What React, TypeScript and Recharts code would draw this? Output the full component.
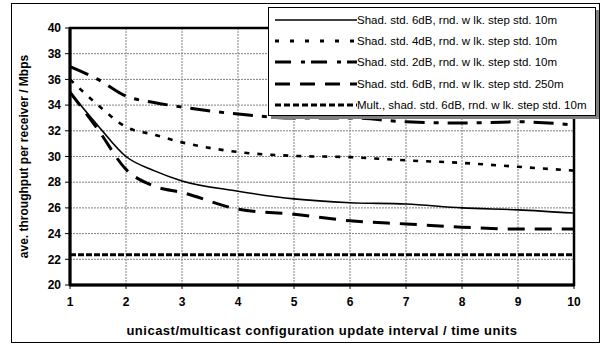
import React from "react"
import { LineChart, Line, XAxis, YAxis, CartesianGrid, Legend, ReferenceArea } from "recharts"

const xValues = [1, 1.5, 2, 2.5, 3, 4, 5, 6, 7, 8, 9, 10]
const shad6Walk10 = [35, 32.4, 30.0, 28.9, 28.1, 27.3, 26.7, 26.4, 26.3, 26.0, 25.85, 25.6]
const shad4Walk10 = [36, 34.0, 32.3, 31.7, 31.1, 30.35, 30.05, 29.95, 29.7, 29.5, 29.2, 28.9]
const shad2Walk10 = [37, 36.0, 34.7, 34.2, 33.85, 33.3, 33.0, 33.0, 32.7, 32.6, 32.7, 32.45]
const shad6Walk250 = [35, 32.1, 29.0, 27.7, 27.2, 25.9, 25.5, 25.0, 24.75, 24.5, 24.35, 24.35]
const multShad6Walk10 = [22.35, 22.35, 22.35, 22.35, 22.35, 22.35, 22.35, 22.35, 22.35, 22.35, 22.35, 22.35]

const xTicks = [1, 2, 3, 4, 5, 6, 7, 8, 9, 10]
const yTicks = [20, 22, 24, 26, 28, 30, 32, 34, 36, 38, 40]

const seriesNames = [
    "Shad. std. 6dB, rnd. w lk. step std. 10m",
    "Shad. std. 4dB, rnd. w lk. step std. 10m",
    "Shad. std. 2dB, rnd. w lk. step std. 10m",
    "Shad. std. 6dB, rnd. w lk. step std. 250m",
    "Mult., shad. std. 6dB, rnd. w lk. step std. 10m",
]

const data = xValues.map((x, i) => ({
    x,
    s1: shad6Walk10[i],
    s2: shad4Walk10[i],
    s3: shad2Walk10[i],
    s4: shad6Walk250[i],
    s5: multShad6Walk10[i],
}))

const FONT = "'Liberation Sans', Arial, sans-serif"

const styles = [
    { key: "s1", width: 1.6, dash: undefined },
    { key: "s2", width: 2.6, dash: "5 8" },
    { key: "s3", width: 3, dash: "20 9 5 9" },
    { key: "s4", width: 3, dash: "17 10" },
    { key: "s5", width: 3, dash: "6 2" },
]

const legendDash = [undefined, "4 11", "16 10 4 6", "15 10", "6 3"]

function LegendBox() {
    return (
        <div
            style={{
                width: 326,
                height: 106,
                background: "#fff",
                border: "1px solid #000",
                boxShadow: "3px 3px 0 #808080",
                fontFamily: FONT,
                fontSize: 11.5,
                paddingTop: 1,
            }}
        >
            {seriesNames.map((name, i) => (
                <div key={name} style={{ display: "flex", alignItems: "center", height: 21.4 }}>
                    <svg width={88} height={10}>
                        <line
                            x1={6}
                            y1={5}
                            x2={88}
                            y2={5}
                            stroke="#000"
                            strokeWidth={i === 0 ? 1.6 : 3}
                            strokeDasharray={legendDash[i]}
                        />
                    </svg>
                    <span style={{ whiteSpace: "nowrap" }}>{name}</span>
                </div>
            ))}
        </div>
    )
}

export default function App() {
    return (
        <div style={{ position: "absolute", left: 0, top: 0, width: 607, height: 344, background: "#fff" }}>
            <div
                style={{
                    position: "absolute",
                    left: 11,
                    top: 3,
                    width: 587,
                    height: 338,
                    border: "1px solid #000",
                }}
            />
            <div style={{ position: "absolute", left: 0, top: 0 }}>
                <LineChart width={607} height={344} data={data} margin={{ top: 28, right: 33, bottom: 0, left: 0 }}>
                    <CartesianGrid stroke="#808080" strokeDasharray="2 1" />
                    <XAxis
                        dataKey="x"
                        type="number"
                        domain={[1, 10]}
                        ticks={xTicks}
                        height={59}
                        tickSize={4}
                        tickMargin={8}
                        axisLine={{ stroke: "#000", strokeWidth: 3 }}
                        tickLine={{ stroke: "#000" }}
                        tick={{ fill: "#000", fontSize: 12, fontWeight: "bold", fontFamily: FONT }}
                        label={{
                            value: "unicast/multicast configuration update interval / time units",
                            position: "insideBottom",
                            offset: 9,
                            fill: "#000",
                            fontSize: 13,
                            fontWeight: "bold",
                            fontFamily: FONT,
                            style: { letterSpacing: 0.5 },
                        }}
                    />
                    <YAxis
                        type="number"
                        domain={[20, 40]}
                        ticks={yTicks}
                        width={70}
                        tickSize={5}
                        tickMargin={4}
                        axisLine={{ stroke: "#000", strokeWidth: 3 }}
                        tickLine={{ stroke: "#000" }}
                        tick={{ fill: "#000", fontSize: 12, fontWeight: "bold", fontFamily: FONT }}
                        label={{
                            value: "ave. throughput per receiver / Mbps",
                            angle: -90,
                            position: "insideLeft",
                            offset: 24,
                            style: { textAnchor: "middle" },
                            fill: "#000",
                            fontSize: 12,
                            fontWeight: "bold",
                            fontFamily: FONT,
                        }}
                    />
                    <ReferenceArea x1={1} x2={10} y1={20} y2={40} fill="none" stroke="#000" strokeWidth={2.5} ifOverflow="visible" />
                    {styles.map((s, i) => (
                        <Line
                            key={s.key}
                            dataKey={s.key}
                            name={seriesNames[i]}
                            type="monotone"
                            stroke="#000"
                            strokeWidth={s.width}
                            strokeDasharray={s.dash}
                            dot={false}
                            isAnimationActive={false}
                        />
                    ))}
                    <Legend
                        layout="vertical"
                        align="center"
                        verticalAlign="middle"
                        content={() => <LegendBox />}
                        wrapperStyle={{ left: 268, top: 7, width: 330, height: 110 }}
                    />
                </LineChart>
            </div>
        </div>
    )
}
